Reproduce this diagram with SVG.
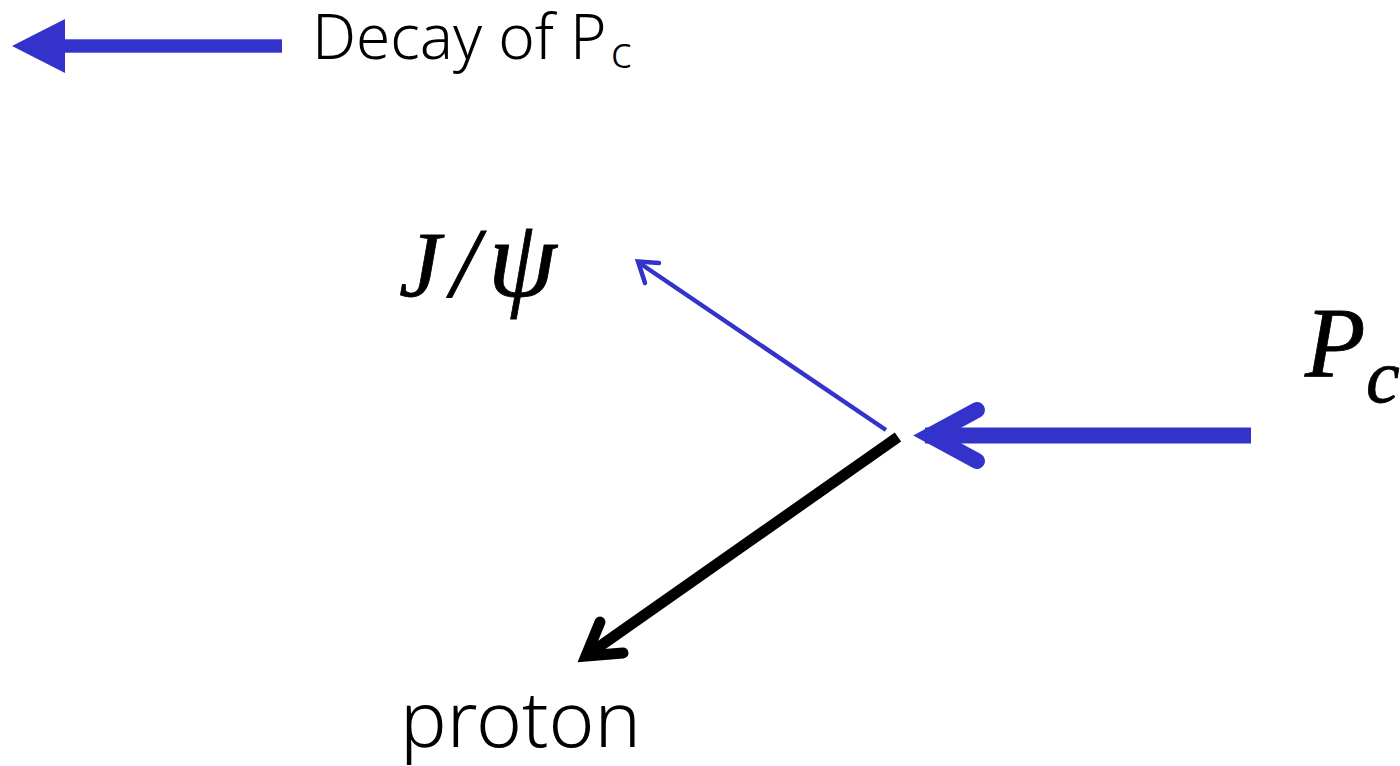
<svg xmlns="http://www.w3.org/2000/svg" width="1400" height="766" viewBox="0 0 1400 766">
<style>
.sans{font-family:"Noto Sans","Open Sans","Liberation Sans",sans-serif;font-weight:300;fill:#000}
.math{font-family:"Liberation Serif","DejaVu Serif",serif;font-style:italic;fill:#000;stroke:#000;stroke-width:0.8}
.blue{stroke:#3333CC;fill:none}
.black{stroke:#000;fill:none}
</style>
<rect width="1400" height="766" fill="#fff"/>
<g id="legend">
<polygon points="12,46 65,19 65,73" fill="#3333CC"/>
<rect x="64" y="39.3" width="218" height="13.4" fill="#3333CC"/>
<text class="sans" x="312" y="59" font-size="62">Decay of P<tspan font-size="44" dx="4" y="68">c</tspan></text>
</g>
<g id="node-jpsi">
<text class="math" y="296" font-size="94"><tspan x="399">J</tspan><tspan x="451" font-size="100">/</tspan><tspan x="488" font-size="110">ψ</tspan></text>
</g>
<g id="node-pc">
<text class="math" x="1305" y="376" font-size="99">P<tspan x="1366" y="402" font-size="76">c</tspan></text>
</g>
<g id="node-proton">
<text class="sans" x="400" y="747" font-size="78">proton</text>
</g>
<g id="connectors">
<g id="pc-arrow" class="blue" stroke-width="16">
<line x1="925" y1="435.5" x2="1251" y2="435.5"/>
<polyline points="977,410 930,435.5 977,461" stroke-linecap="round" stroke-linejoin="miter" stroke-miterlimit="10"/>
</g>
<g id="jpsi-arrow" class="blue" stroke-width="4.5">
<line x1="886" y1="430" x2="638" y2="262"/>
<polyline points="659,263 638,261.5 645,283" stroke-linecap="round" stroke-linejoin="miter" stroke-miterlimit="10"/>
</g>
<g id="proton-arrow" class="black" stroke-width="11">
<line x1="898" y1="437" x2="586" y2="656"/>
<polyline points="600,622 586,656 623,653" stroke-linecap="round" stroke-linejoin="miter" stroke-miterlimit="10"/>
</g>
</g>
</svg>
